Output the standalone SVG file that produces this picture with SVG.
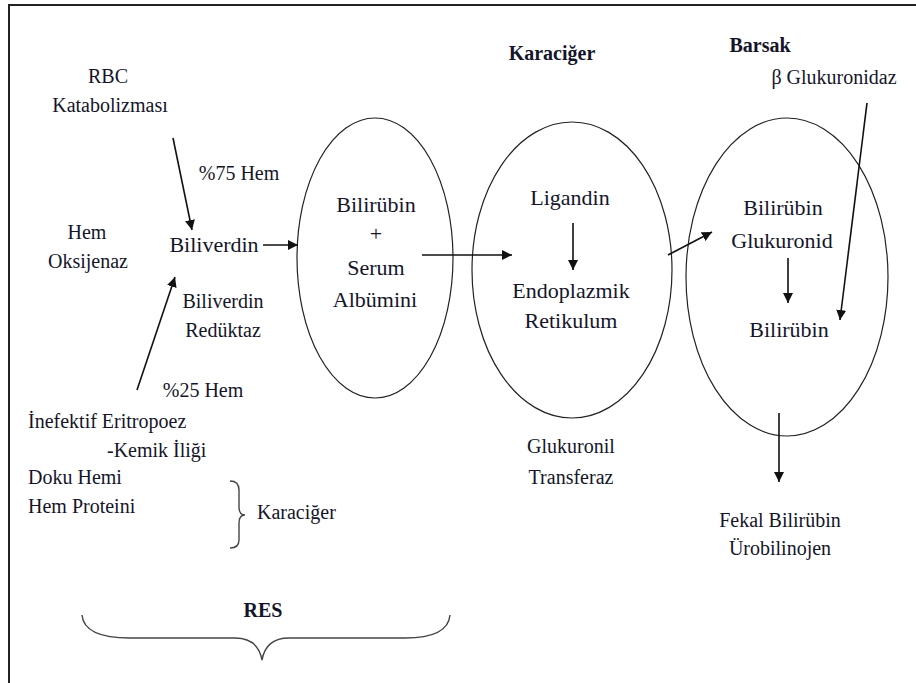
<svg xmlns="http://www.w3.org/2000/svg" width="916" height="683" viewBox="0 0 916 683">
<style>
text{font-family:'Liberation Serif','Times New Roman',serif;fill:#15152a;font-size:20px;text-anchor:middle}
.b{font-weight:bold}
.l{text-anchor:start}
.g{font-size:22px}
.ell{fill:none;stroke:#222;stroke-width:1.2}
.c{fill:none;stroke:#111;stroke-width:1.6;marker-end:url(#ah)}
.br{fill:none;stroke:#444;stroke-width:1.4}
</style>
<defs>
<marker id="ah" viewBox="0 0 10 10" refX="10" refY="5" markerWidth="10" markerHeight="10" markerUnits="userSpaceOnUse" orient="auto">
<path d="M0,0 L10,5 L0,10 Z" fill="#111"/>
</marker>
</defs>
<rect width="916" height="683" fill="#fff"/>
<path d="M9,683 V5 H916" fill="none" stroke="#222" stroke-width="2"/>
<g id="n-rbc"><text x="108" y="83">RBC</text><text x="110" y="112">Katabolizması</text></g>
<g id="n-hem75"><text x="239" y="180">%75 Hem</text></g>
<g id="n-hemoks"><text x="87" y="239">Hem</text><text x="88" y="268">Oksijenaz</text></g>
<g id="n-biliverdin"><text class="g" x="214" y="252">Biliverdin</text></g>
<g id="n-bvr"><text x="223" y="308">Biliverdin</text><text x="223" y="337">Redüktaz</text></g>
<g id="n-hem25"><text x="203" y="397">%25 Hem</text></g>
<g id="n-inef"><text class="l" x="28" y="428">İnefektif Eritropoez</text><text class="l" x="107" y="457">-Kemik İliği</text></g>
<g id="n-doku"><text class="l" x="28" y="484">Doku Hemi</text><text class="l" x="28" y="513">Hem Proteini</text></g>
<g id="n-karaciger2"><path class="br" d="M230,481 Q239,481 239,490 V507 Q239,515 245,515 Q239,515 239,523 V540 Q239,548 230,548"/><text class="l" x="257" y="519">Karaciğer</text></g>
<g id="n-res"><text class="b" x="263" y="617">RES</text><path class="br" d="M82,615 Q84,638 130,638 H235 Q258,638 262,660 Q266,638 289,638 H405 Q448,638 450,615"/></g>

<g id="n-e1"><ellipse class="ell" cx="375" cy="258" rx="78" ry="140"/>
<text class="g" x="376" y="212">Bilirübin</text><text class="g" x="376" y="241">+</text><text class="g" x="376" y="275">Serum</text><text class="g" x="375" y="307">Albümini</text></g>
<g id="n-e2"><text class="b" x="552" y="60">Karaciğer</text><ellipse class="ell" cx="572" cy="270" rx="100" ry="148"/>
<text class="g" x="570" y="205">Ligandin</text><text class="g" x="571" y="298">Endoplazmik</text><text class="g" x="571" y="328">Retikulum</text></g>
<g id="n-glt"><text x="571" y="453">Glukuronil</text><text x="571" y="484">Transferaz</text></g>
<g id="n-e3"><text class="b" x="760" y="52">Barsak</text><ellipse class="ell" cx="787" cy="277" rx="101" ry="159"/>
<text class="g" x="783" y="215">Bilirübin</text><text class="g" x="782" y="248">Glukuronid</text><text class="g" x="789" y="337">Bilirübin</text></g>
<g id="n-bglu"><text x="834" y="84">β Glukuronidaz</text></g>
<g id="n-fekal"><text x="780" y="527">Fekal Bilirübin</text><text x="780" y="555">Ürobilinojen</text></g>
<g id="connectors">
<line class="c" x1="173" y1="138" x2="192" y2="230"/>
<line class="c" x1="137" y1="390" x2="175" y2="277"/>
<line class="c" x1="263" y1="245" x2="298" y2="245"/>
<line class="c" x1="422" y1="255" x2="512" y2="255"/>
<line class="c" x1="573" y1="223" x2="573" y2="270"/>
<line class="c" x1="668" y1="255" x2="712" y2="232"/>
<line class="c" x1="788" y1="258" x2="788" y2="303"/>
<line class="c" x1="867" y1="103" x2="840" y2="320"/>
<line class="c" x1="779" y1="413" x2="779" y2="482"/>
</g>
</svg>
